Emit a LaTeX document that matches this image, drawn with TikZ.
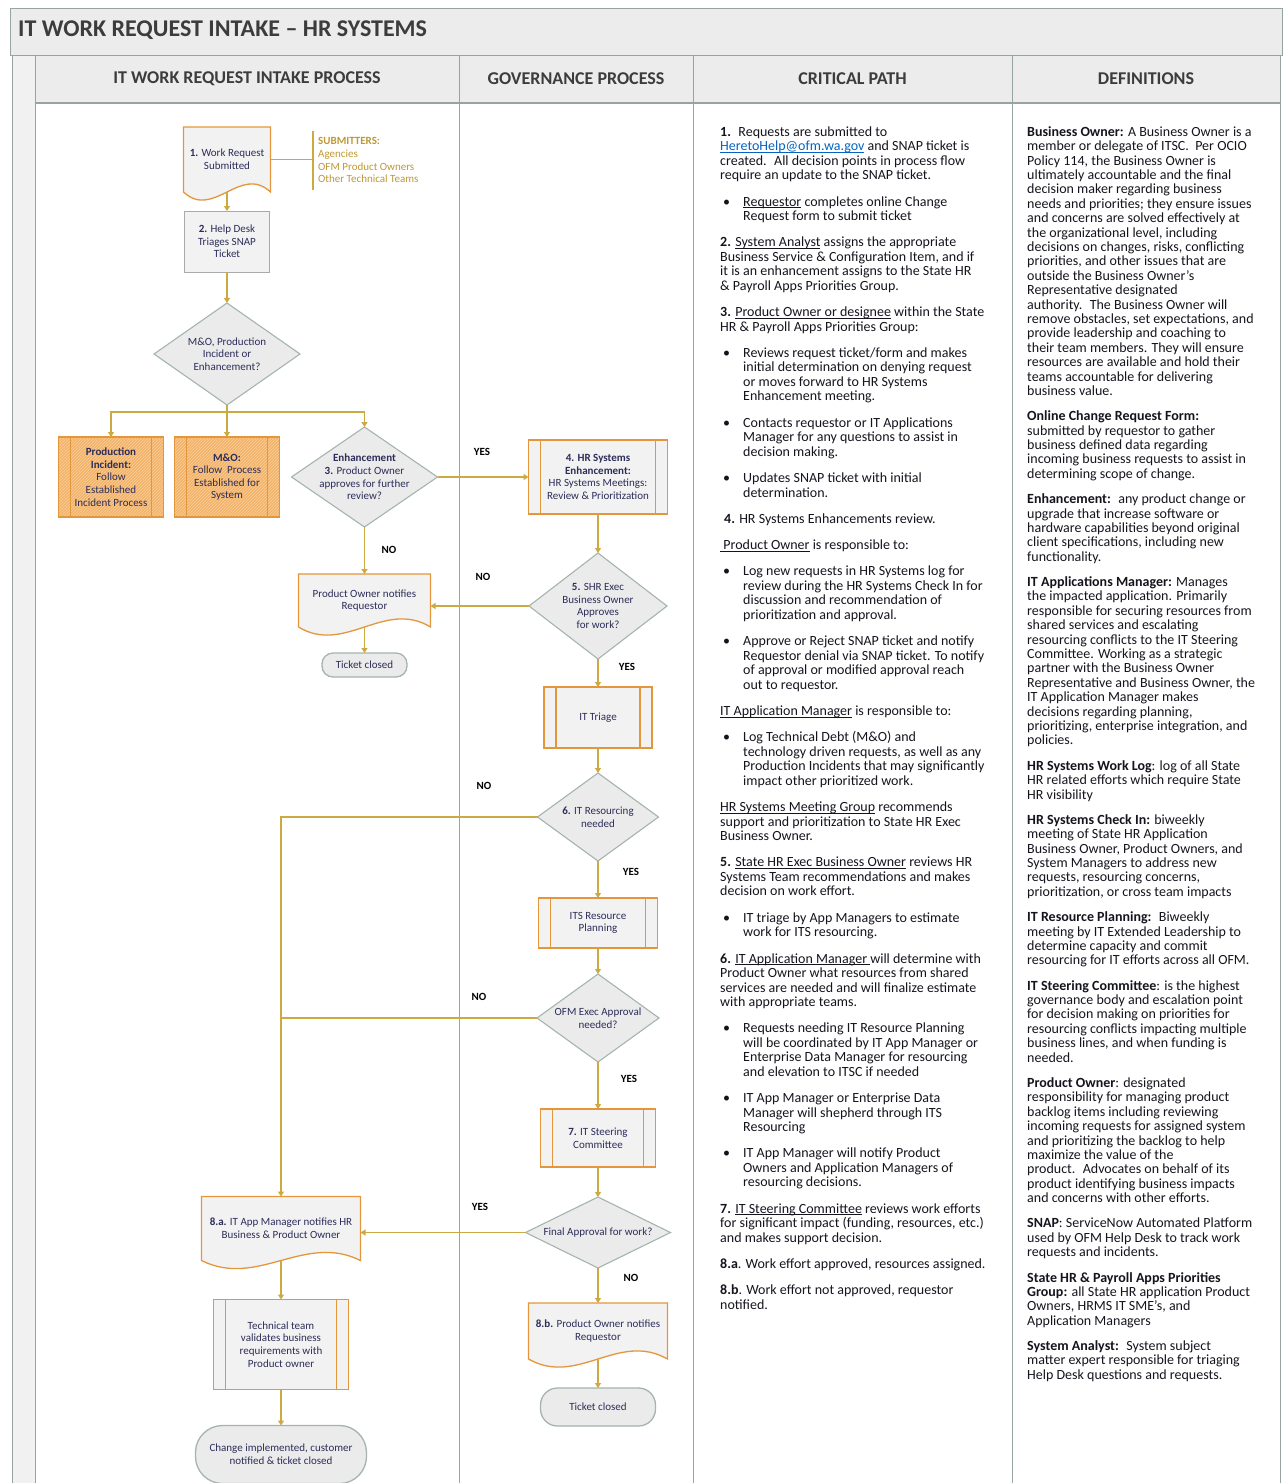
\documentclass[tikz,border=0pt]{standalone}
\usepackage{fontspec}
\setmainfont{Carlito}
\usetikzlibrary{arrows.meta}
\usetikzlibrary{backgrounds}
\usetikzlibrary{patterns}
\usetikzlibrary{positioning}
\usetikzlibrary{shapes.geometric}

\definecolor{gridline}{RGB}{150,165,158}
\definecolor{headfill}{RGB}{236,236,236}
\definecolor{stripfill}{RGB}{241,241,241}
\definecolor{headtext}{RGB}{60,60,60}
\definecolor{flowgold}{RGB}{205,170,65}
\definecolor{subgold}{RGB}{190,152,52}
\definecolor{procorange}{RGB}{228,150,60}
\definecolor{boxfill}{RGB}{242,242,242}
\definecolor{diafill}{RGB}{235,235,235}
\definecolor{diaedge}{RGB}{165,180,172}
\definecolor{helpedge}{RGB}{170,170,170}
\definecolor{incfill}{RGB}{243,178,105}
\definecolor{inchatch}{RGB}{249,208,155}
\definecolor{flowtext}{RGB}{45,45,90}
\definecolor{bodytext}{RGB}{20,20,30}
\definecolor{linkblue}{RGB}{5,99,193}

\newsavebox{\cpulbox}
\newcommand{\cpul}[1]{\sbox{\cpulbox}{#1}\rlap{\rule[-1.8pt]{\wd\cpulbox}{0.6pt}}\usebox{\cpulbox}}
\newcommand{\cpitem}{\makebox[23pt][l]{\hspace{3pt}\textbullet}}
\newcommand{\cpcont}{\hspace*{23pt}}
\newcommand{\cplink}[1]{\textcolor{linkblue}{\cpul{#1}}}
\newlength{\cpgap}\setlength{\cpgap}{11.8pt}
\newlength{\defgap}\setlength{\defgap}{10.9pt}
% document symbol: box with a wavy bottom, behind the named node
\newcommand{\docoutline}[2]{%
	\begin{pgfonlayer}{background}
		\draw [docedge] (#1.south west) -- (#1.north west) -- (#1.north east) -- (#1.south east)
			.. controls +(-#2,-28) and +(#2,28) .. (#1.south west) -- cycle;
	\end{pgfonlayer}}

\begin{document}
\begin{tikzpicture}[x=1pt,y=-1pt,
		>={Triangle[width=6pt,length=5pt]},
		flowtxt/.style={font=\fontsize{11}{12.6}\selectfont,text=flowtext,align=center,inner sep=1pt},
		colhead/.style={font=\fontsize{18}{20}\selectfont\bfseries,text=headtext,inner sep=0pt},
		bodytxt/.style={text=bodytext,align=left,inner sep=0pt,anchor=north west},
		answer/.style={font=\fontsize{11}{12}\selectfont\bfseries,text=black,inner sep=0pt},
		flowline/.style={draw=flowgold,line width=1.2pt},
		docbody/.style={rectangle,flowtxt,outer sep=0pt},
		docedge/.style={draw=procorange,line width=1.3pt,fill=boxfill},
		helpbox/.style={rectangle,draw=helpedge,line width=1pt,fill=boxfill,flowtxt,outer sep=0pt},
		procbox/.style={rectangle,draw=procorange,line width=1.6pt,fill=boxfill,flowtxt,outer sep=0pt,
			path picture={\draw[procorange,line width=1.6pt]
				([xshift=12pt]path picture bounding box.north west) -- ([xshift=12pt]path picture bounding box.south west)
				([xshift=-12pt]path picture bounding box.north east) -- ([xshift=-12pt]path picture bounding box.south east);}},
		incbox/.style={procbox,fill=none,preaction={fill=incfill},pattern=north east lines,pattern color=inchatch},
		decision/.style={diamond,draw=diaedge,line width=1.1pt,fill=diafill,inner sep=0pt,outer sep=0pt},
		endcap/.style={rectangle,draw=diaedge,line width=1.3pt,fill=diafill,flowtxt,outer sep=0pt}]
		\useasboundingbox (0,0) rectangle (1285,1483);

		% frame and column heads
		\draw [gridline,fill=headfill] (10,8) rectangle (1282,55);
		\node [anchor=west,font=\fontsize{24}{27}\selectfont\bfseries,text=headtext,inner sep=0pt] (title) at (18,30.5) {IT WORK REQUEST INTAKE – HR SYSTEMS};
		\draw [gridline,fill=stripfill] (12,55) rectangle (35,1490);
		\foreach \xa/\xb/\head in {35/459/IT WORK REQUEST INTAKE PROCESS,459/693/GOVERNANCE PROCESS,693/1012/CRITICAL PATH,1012/1280/DEFINITIONS} {
			\draw [gridline,fill=headfill] (\xa,55) rectangle (\xb,103);
			\node [colhead] (head\xa) at ({(\xa+\xb)/2},78.5) {\head};
		}
		\foreach \xc in {459,693,1012,1280}
			\draw [gridline] (\xc,103) -- (\xc,1490);
		\draw [gridline,line width=1.5pt] (35,103) -- (1280,103);

		% intake process
		\node [docbody,minimum width=87pt,minimum height=65pt] (request) at (227,159.5) {\textbf{1.} Work Request\\Submitted};
		\docoutline{request}{30}
		\node [helpbox,below=19pt of request,minimum width=85pt,minimum height=61pt] (helpdesk) {\textbf{2.} Help Desk\\Triages SNAP\\Ticket};
		\node [decision,below=31pt of helpdesk,minimum width=146pt,minimum height=102pt] (sortq) {};
		\node [flowtxt] (sortqlbl) at (sortq.center) {M\&O, Production\\Incident or\\Enhancement?};
		\node [incbox,below=32pt of sortq,minimum width=105pt,minimum height=80pt] (maint) {\textbf{M\&O:}\\Follow~ Process\\Established for\\System};
		\node [incbox,left=11pt of maint,minimum width=105pt,minimum height=80pt] (incident) {\textbf{Production}\\\textbf{Incident:}\\Follow\\Established\\Incident Process};
		\node [decision,right=12pt of maint,minimum width=146pt,minimum height=100pt] (enhance) {};
		\node [flowtxt] (enhancelbl) at (enhance.center) {\textbf{Enhancement}\\\textbf{3.} Product Owner\\approves for further\\review?};
		\node [docbody,below=47pt of enhance,minimum width=132pt,minimum height=53pt] (ownernote) {Product Owner notifies\\Requestor};
		\docoutline{ownernote}{46}
		\node [endcap,below=26pt of ownernote,minimum width=85pt,minimum height=24pt,rounded corners=11pt] (closedA) {Ticket closed};

		\node [font=\fontsize{11}{12.8}\selectfont,text=subgold,align=left,inner sep=0pt,anchor=north west] (submitters) at (318,137) {\textbf{SUBMITTERS:}\\Agencies\\OFM Product Owners\\Other Technical Teams};
		\draw [flowline] ([xshift=-5pt,yshift=6pt]submitters.north west) coordinate (brtop) -- ([xshift=-5pt,yshift=-7pt]submitters.south west);
		\draw [flowline] (request.east) -- (request.east -| brtop);

		% governance process
		\node [procbox,right=91pt of enhance,minimum width=139pt,minimum height=74pt] (hrreview) {\textbf{4. HR Systems}\\\textbf{Enhancement:}\\HR Systems Meetings:\\Review \& Prioritization};
		\node [decision,below=39pt of hrreview,minimum width=138pt,minimum height=106pt] (execok) {};
		\node [flowtxt] (execoklbl) at (execok.center) {\textbf{5.} SHR Exec\\Business Owner\\Approves\\for work?};
		\node [procbox,below=28pt of execok,minimum width=108pt,minimum height=61pt] (triage) {IT Triage};
		\node [decision,below=25pt of triage,minimum width=121pt,minimum height=88pt] (resneed) {};
		\node [flowtxt] (resneedlbl) at (resneed.center) {\textbf{6.} IT Resourcing\\needed};
		\node [procbox,below=37pt of resneed,minimum width=119pt,minimum height=50pt] (resplan) {ITS Resource\\Planning};
		\node [decision,below=26pt of resplan,minimum width=122pt,minimum height=88pt] (ofmok) {};
		\node [flowtxt] (ofmoklbl) at (ofmok.center) {OFM Exec Approval\\needed?};
		\node [procbox,below=47pt of ofmok,minimum width=115pt,minimum height=58pt] (steering) {\textbf{7.} IT Steering\\Committee};
		\node [decision,below=30pt of steering,minimum width=145pt,minimum height=71pt] (finalok) {};
		\node [flowtxt] (finaloklbl) at (finalok.center) {Final Approval for work?};
		\node [docbody,below=35pt of finalok,minimum width=139pt,minimum height=56pt] (ownerdeny) {\textbf{8.b.} Product Owner notifies\\Requestor};
		\docoutline{ownerdeny}{49}
		\node [endcap,below=29pt of ownerdeny,minimum width=115pt,minimum height=38pt,rounded corners=17pt] (closedB) {Ticket closed};

		\node [docbody,left=165pt of finalok,yshift=4pt,minimum width=159pt,minimum height=64pt] (appnote) {\textbf{8.a.} IT App Manager notifies HR\\Business \& Product Owner};
		\docoutline{appnote}{56}
		\node [procbox,below=39pt of appnote,minimum width=135pt,minimum height=90pt] (techval) {Technical team\\validates business\\requirements with\\Product owner};
		\node [endcap,below=36pt of techval,minimum width=171pt,minimum height=58pt,rounded corners=27pt] (closedC) {Change implemented, customer\\notified \& ticket closed};

		% connectors
		\draw [flowline,->] (request.south) -- (helpdesk);
		\draw [flowline,->] (helpdesk) -- (sortq);
		\draw [flowline] (sortq.south) -- ++(0,7) coordinate (fork);
		\draw [flowline,->] (fork) -| (incident.north);
		\draw [flowline,->] (fork) -- (maint.north);
		\draw [flowline,->] (fork) -| (enhance.north);
		\draw [flowline,->] (enhance) -- (hrreview);
		\draw [flowline,->] (enhance) -- (ownernote);
		\draw [flowline,->] (ownernote.south) -- (closedA);
		\draw [flowline,->] (hrreview) -- (execok);
		\draw [flowline,->] (execok.west) -- (execok.west -| ownernote.east);
		\draw [flowline,->] (execok) -- (triage);
		\draw [flowline,->] (triage) -- (resneed);
		\draw [flowline,->] (resneed.west) -| (appnote.north);
		\draw [flowline,->] (resneed) -- (resplan);
		\draw [flowline,->] (resplan) -- (ofmok);
		\draw [flowline] (ofmok.west) -- (ofmok.west -| appnote.north);
		\draw [flowline,->] (ofmok) -- (steering);
		\draw [flowline,->] (steering) -- (finalok);
		\draw [flowline,->] (finalok.west) -- (finalok.west -| appnote.east);
		\draw [flowline,->] (finalok) -- (ownerdeny);
		\draw [flowline,->] (ownerdeny.south) -- (closedB);
		\draw [flowline,->] (appnote.south) -- (techval);
		\draw [flowline,->] (techval) -- (closedC);

		\node [answer] (yesA) at (482,452) {YES};
		\node [answer] (noA) at (389,550) {NO};
		\node [answer] (noB) at (483,577) {NO};
		\node [answer] (yesB) at (627,667) {YES};
		\node [answer] (noC) at (484,786) {NO};
		\node [answer] (yesC) at (631,872) {YES};
		\node [answer] (noD) at (479,997) {NO};
		\node [answer] (yesD) at (629,1079) {YES};
		\node [answer] (yesE) at (480,1207) {YES};
		\node [answer] (noE) at (631,1278) {NO};

		% critical path
		\node [bodytxt,font=\fontsize{14}{14.5}\selectfont] (critpath) at (720,125) {\rule{0pt}{11pt}\textbf{1.}~ Requests are submitted to\\
			\cplink{HeretoHelp@ofm.wa.gov} and SNAP ticket is\\
			created.~ All decision points in process flow\\
			require an update to the SNAP ticket.\\[\cpgap]
			\cpitem\cpul{Requestor} completes online Change\\
			\cpcont Request form to submit ticket\\[\cpgap]
			\textbf{2.} \cpul{System Analyst} assigns the appropriate\\
			Business Service \& Configuration Item, and if\\
			it is an enhancement assigns to the State HR\\
			\& Payroll Apps Priorities Group.\\[\cpgap]
			\textbf{3.} \cpul{Product Owner or designee} within the State\\
			HR \& Payroll Apps Priorities Group:\\[\cpgap]
			\cpitem Reviews request ticket/form and makes\\
			\cpcont initial determination on denying request\\
			\cpcont or moves forward to HR Systems\\
			\cpcont Enhancement meeting.\\[\cpgap]
			\cpitem Contacts requestor or IT Applications\\
			\cpcont Manager for any questions to assist in\\
			\cpcont decision making.\\[\cpgap]
			\cpitem Updates SNAP ticket with initial\\
			\cpcont determination.\\[\cpgap]
			\hspace*{4pt}\textbf{4.} HR Systems Enhancements review.\\[\cpgap]
			\cpul{~Product Owner} is responsible to:\\[\cpgap]
			\cpitem Log new requests in HR Systems log for\\
			\cpcont review during the HR Systems Check In for\\
			\cpcont discussion and recommendation of\\
			\cpcont prioritization and approval.\\[\cpgap]
			\cpitem Approve or Reject SNAP ticket and notify\\
			\cpcont Requestor denial via SNAP ticket. To notify\\
			\cpcont of approval or modified approval reach\\
			\cpcont out to requestor.\\[\cpgap]
			\cpul{IT Application Manager} is responsible to:\\[\cpgap]
			\cpitem Log Technical Debt (M\&O) and\\
			\cpcont technology driven requests, as well as any\\
			\cpcont Production Incidents that may significantly\\
			\cpcont impact other prioritized work.\\[\cpgap]
			\cpul{HR Systems Meeting Group} recommends\\
			support and prioritization to State HR Exec\\
			Business Owner.\\[\cpgap]
			\textbf{5.} \cpul{State HR Exec Business Owner} reviews HR\\
			Systems Team recommendations and makes\\
			decision on work effort.\\[\cpgap]
			\cpitem IT triage by App Managers to estimate\\
			\cpcont work for ITS resourcing.\\[\cpgap]
			\textbf{6.} \cpul{IT Application Manager~}will determine with\\
			Product Owner what resources from shared\\
			services are needed and will finalize estimate\\
			with appropriate teams.\\[\cpgap]
			\cpitem Requests needing IT Resource Planning\\
			\cpcont will be coordinated by IT App Manager or\\
			\cpcont Enterprise Data Manager for resourcing\\
			\cpcont and elevation to ITSC if needed\\[\cpgap]
			\cpitem IT App Manager or Enterprise Data\\
			\cpcont Manager will shepherd through ITS\\
			\cpcont Resourcing\\[\cpgap]
			\cpitem IT App Manager will notify Product\\
			\cpcont Owners and Application Managers of\\
			\cpcont resourcing decisions.\\[\cpgap]
			\textbf{7.} \cpul{IT Steering Committee} reviews work efforts\\
			for significant impact (funding, resources, etc.)\\
			and makes support decision.\\[\cpgap]
			\textbf{8.a}. Work effort approved, resources assigned.\\[\cpgap]
			\textbf{8.b}. Work effort not approved, requestor\\
			notified.};

		% definitions
		\node [bodytxt,font=\fontsize{14}{14.4}\selectfont] (definitions) at (1027,125) {\rule{0pt}{11pt}\textbf{Business Owner:} A Business Owner is a\\
			member or delegate of ITSC.~ Per OCIO\\
			Policy 114, the Business Owner is\\
			ultimately accountable and the final\\
			decision maker regarding business\\
			needs and priorities; they ensure issues\\
			and concerns are solved effectively at\\
			the organizational level, including\\
			decisions on changes, risks, conflicting\\
			priorities, and other issues that are\\
			outside the Business Owner's\\
			Representative designated\\
			authority.~ The Business Owner will\\
			remove obstacles, set expectations, and\\
			provide leadership and coaching to\\
			their team members. They will ensure\\
			resources are available and hold their\\
			teams accountable for delivering\\
			business value.\\[\defgap]
			\textbf{Online Change Request Form:}\\
			submitted by requestor to gather\\
			business defined data regarding\\
			incoming business requests to assist in\\
			determining scope of change.\\[\defgap]
			\textbf{Enhancement:}~ any product change or\\
			upgrade that increase software or\\
			hardware capabilities beyond original\\
			client specifications, including new\\
			functionality.\\[\defgap]
			\textbf{IT Applications Manager:} Manages\\
			the impacted application. Primarily\\
			responsible for securing resources from\\
			shared services and escalating\\
			resourcing conflicts to the IT Steering\\
			Committee. Working as a strategic\\
			partner with the Business Owner\\
			Representative and Business Owner, the\\
			IT Application Manager makes\\
			decisions regarding planning,\\
			prioritizing, enterprise integration, and\\
			policies.\\[\defgap]
			\textbf{HR Systems Work Log}: log of all State\\
			HR related efforts which require State\\
			HR visibility\\[\defgap]
			\textbf{HR Systems Check In:} biweekly\\
			meeting of State HR Application\\
			Business Owner, Product Owners, and\\
			System Managers to address new\\
			requests, resourcing concerns,\\
			prioritization, or cross team impacts\\[\defgap]
			\textbf{IT Resource Planning:}~ Biweekly\\
			meeting by IT Extended Leadership to\\
			determine capacity and commit\\
			resourcing for IT efforts across all OFM.\\[\defgap]
			\textbf{IT Steering Committee}: is the highest\\
			governance body and escalation point\\
			for decision making on priorities for\\
			resourcing conflicts impacting multiple\\
			business lines, and when funding is\\
			needed.\\[\defgap]
			\textbf{Product Owner}: designated\\
			responsibility for managing product\\
			backlog items including reviewing\\
			incoming requests for assigned system\\
			and prioritizing the backlog to help\\
			maximize the value of the\\
			product.~ Advocates on behalf of its\\
			product identifying business impacts\\
			and concerns with other efforts.\\[\defgap]
			\textbf{SNAP}: ServiceNow Automated Platform\\
			used by OFM Help Desk to track work\\
			requests and incidents.\\[\defgap]
			\textbf{State HR \& Payroll Apps Priorities}\\
			\textbf{Group:} all State HR application Product\\
			Owners, HRMS IT SME's, and\\
			Application Managers\\[\defgap]
			\textbf{System Analyst:}~ System subject\\
			matter expert responsible for triaging\\
			Help Desk questions and requests.};
	\end{tikzpicture}
\end{document}
